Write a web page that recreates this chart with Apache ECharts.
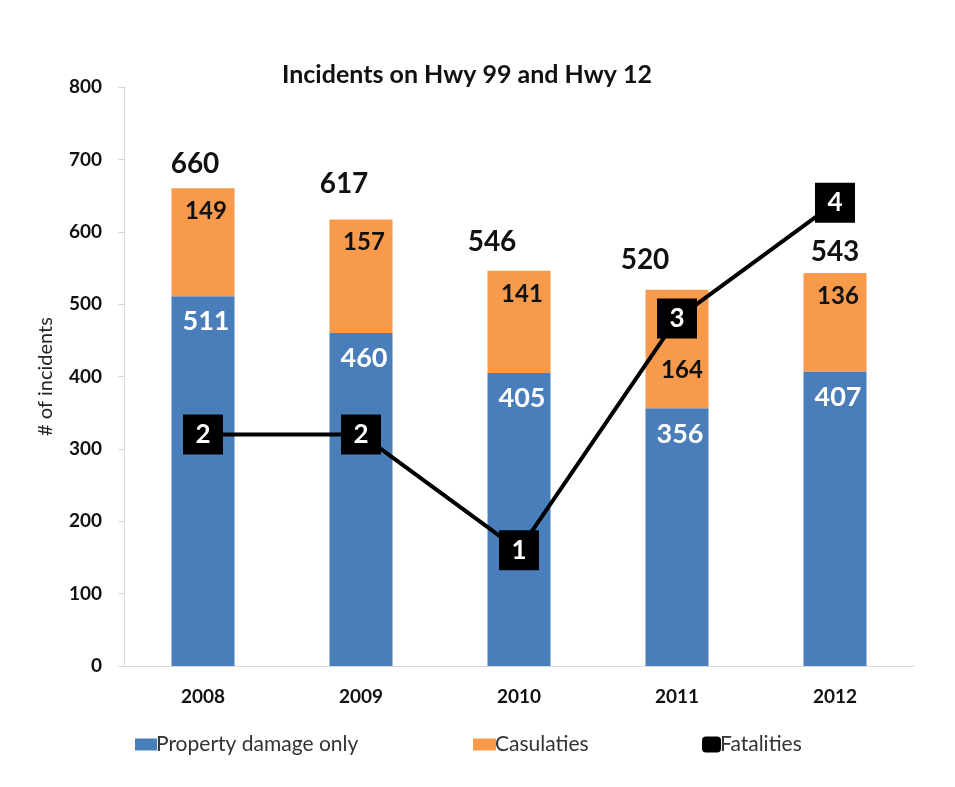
<!DOCTYPE html>
<html>
<head>
<meta charset="utf-8">
<script src="https://cdn.jsdelivr.net/npm/echarts@6/dist/echarts.min.js"></script>
<style>
  html, body { margin: 0; padding: 0; background: #fff; }
  #chart { width: 955px; height: 787px; }
</style>
</head>
<body>
<div id="chart"></div>
<script>
// data
var years = ['2008', '2009', '2010', '2011', '2012'];
var propertyDamage = [511, 460, 405, 356, 407];
var casualties = [149, 157, 141, 164, 136];
var totals = [660, 617, 546, 520, 543];
var fatalities = [2, 2, 1, 3, 4];
var yTicks = [0, 100, 200, 300, 400, 500, 600, 700, 800];

// label nudges, as placed in the original
var totalOffsets = [[-8, -24], [-17, -35], [-27, -29], [-32, -30], [0, -21]];
var casualtyOffsets = [[3, 0], [3, 0], [3, 0], [5, 58], [3, 0]];

var font = 'Lato';
var chart = echarts.init(document.getElementById('chart'));

var legendText = { fontFamily: font, fontSize: 21, color: '#333', padding: [0, 0, 0, -6] };

chart.setOption({
  backgroundColor: '#fff',
  textStyle: { fontFamily: font },
  title: {
    text: 'Incidents on Hwy 99 and Hwy 12',
    left: 462,
    top: 57,
    textAlign: 'center',
    textStyle: { fontFamily: font, fontSize: 25, fontWeight: 'bold', color: '#111' }
  },
  legend: [
    {
      data: ['Property damage only'], left: 130, top: 729,
      itemWidth: 22, itemHeight: 12, itemGap: 0, icon: 'rect',
      textStyle: legendText
    },
    {
      data: ['Casulaties'], left: 468, top: 729,
      itemWidth: 23, itemHeight: 12, icon: 'rect',
      textStyle: legendText
    },
    {
      data: ['Fatalities'], left: 697, top: 729,
      itemWidth: 19, itemHeight: 16, icon: 'roundRect',
      textStyle: legendText
    }
  ],
  grid: { left: 124, right: 41, top: 87, bottom: 121 },
  xAxis: {
    type: 'category',
    data: years,
    axisLine: { lineStyle: { color: '#d9d9d9', width: 1 } },
    axisTick: { show: false },
    axisLabel: { fontFamily: font, fontSize: 19, fontWeight: 'bold', color: '#111', margin: 21 }
  },
  yAxis: [
    {
      type: 'value',
      min: yTicks[0],
      max: yTicks[yTicks.length - 1],
      interval: 100,
      name: '# of incidents',
      nameLocation: 'middle',
      nameGap: 68,
      nameTextStyle: { fontFamily: font, fontSize: 20, color: '#222' },
      axisLine: { show: true, lineStyle: { color: '#d9d9d9' } },
      axisTick: { show: true, length: 6, lineStyle: { color: '#d9d9d9' } },
      axisLabel: { fontFamily: font, fontSize: 19, fontWeight: 'bold', color: '#111', margin: 22 },
      splitLine: { show: false }
    },
    {
      type: 'value',
      min: 0,
      max: 5,
      show: false,
      splitLine: { show: false }
    }
  ],
  series: [
    {
      name: 'Property damage only',
      type: 'bar',
      stack: 'inc',
      barWidth: 63,
      data: propertyDamage,
      itemStyle: { color: '#4a7ebb' },
      label: {
        show: true,
        position: 'insideTop',
        distance: 12,
        offset: [3, 0],
        fontFamily: font,
        fontSize: 27,
        fontWeight: 'bold',
        color: '#fff'
      }
    },
    {
      name: 'Casulaties',
      type: 'bar',
      stack: 'inc',
      barWidth: 63,
      data: casualties.map(function (v, i) {
        return { value: v, label: { offset: casualtyOffsets[i] } };
      }),
      itemStyle: { color: '#f79a4b' },
      label: {
        show: true,
        position: 'insideTop',
        distance: 11,
        fontFamily: font,
        fontSize: 24,
        fontWeight: 'bold',
        color: '#111'
      }
    },
    {
      name: 'totals',
      type: 'scatter',
      symbolSize: 1,
      itemStyle: { color: 'transparent', opacity: 1 },
      silent: true,
      data: totals.map(function (v, i) {
        return { value: v, label: { offset: totalOffsets[i] } };
      }),
      label: {
        show: true,
        position: 'inside',
        fontFamily: font,
        fontSize: 28,
        fontWeight: 'bold',
        color: '#111'
      },
      z: 5
    },
    {
      name: 'Fatalities',
      type: 'line',
      yAxisIndex: 1,
      data: fatalities,
      symbol: 'rect',
      symbolSize: 40,
      lineStyle: { color: '#000', width: 4 },
      itemStyle: { color: '#000' },
      label: {
        show: true,
        position: 'inside',
        fontFamily: font,
        fontSize: 26,
        fontWeight: 'bold',
        color: '#fff'
      },
      z: 10
    }
  ]
});
</script>
</body>
</html>
